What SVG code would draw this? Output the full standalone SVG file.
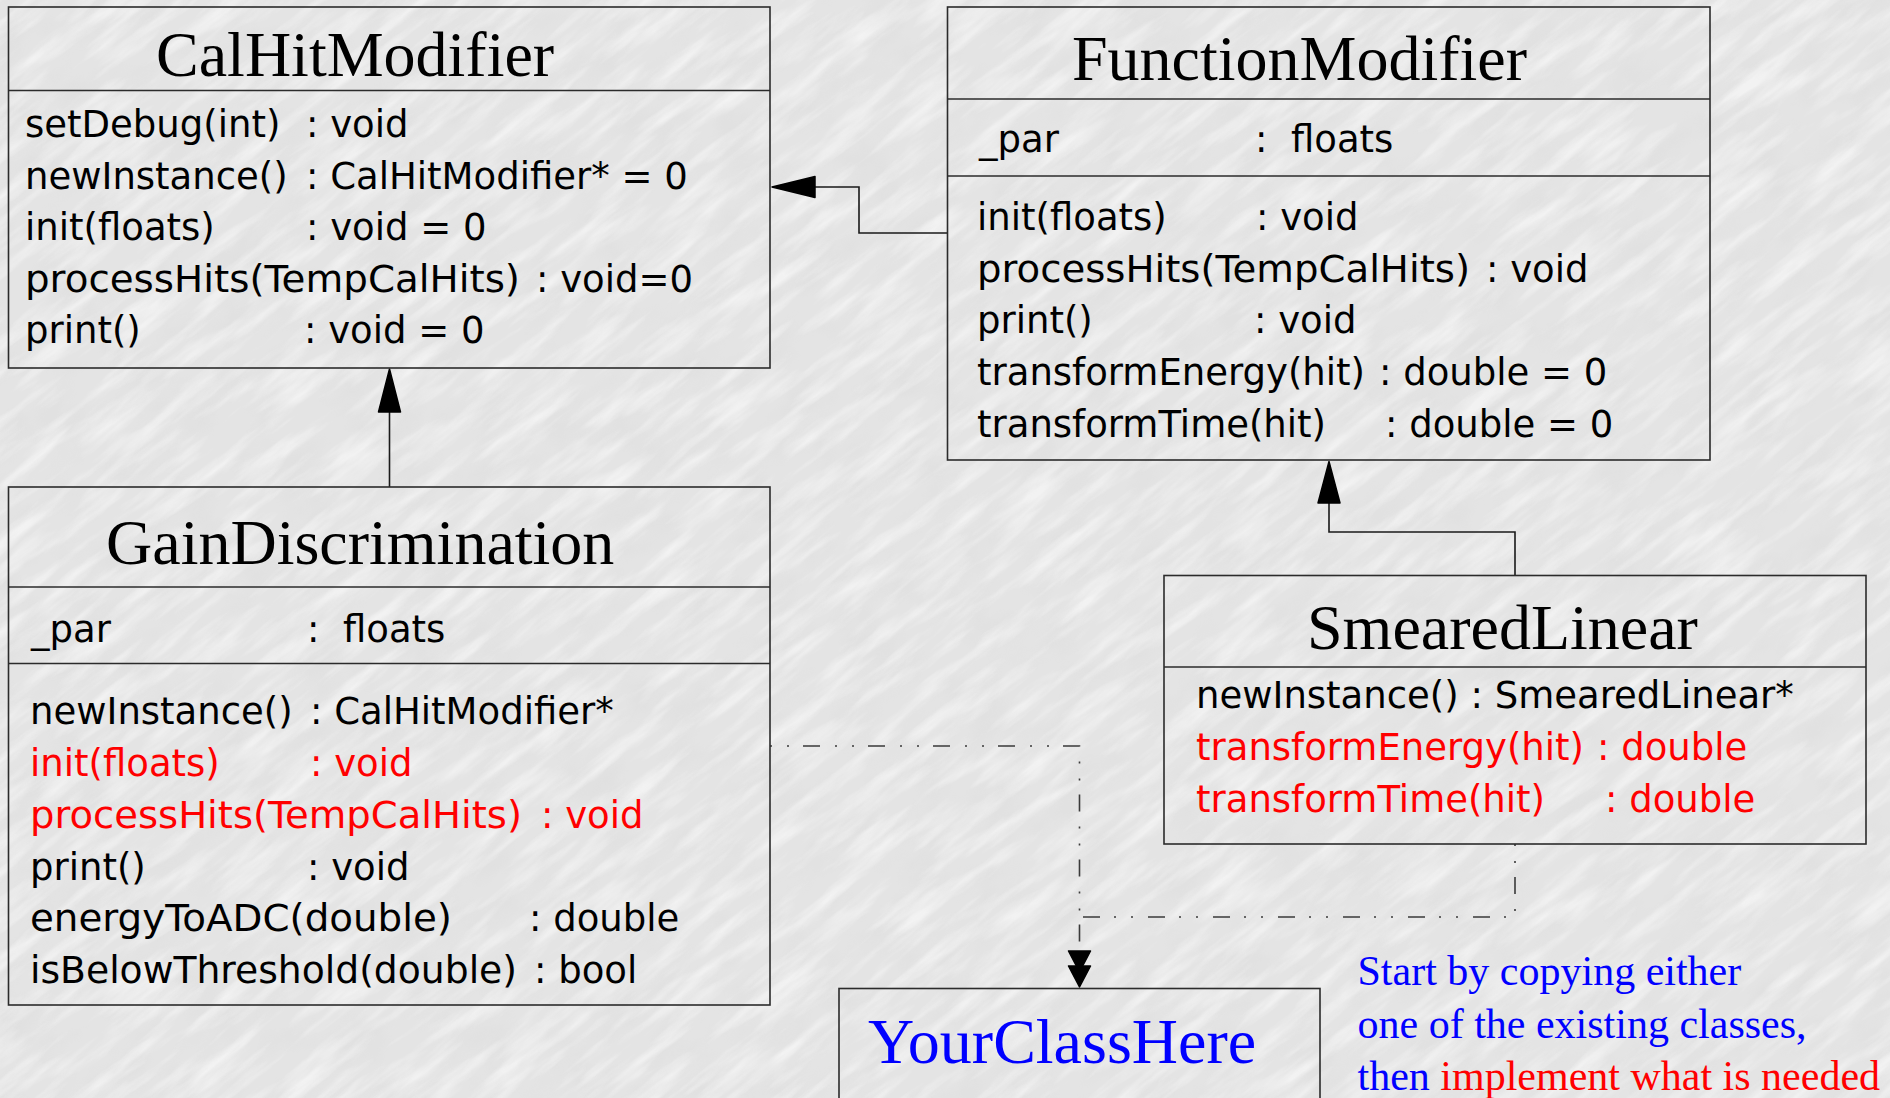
<svg xmlns="http://www.w3.org/2000/svg" width="1890" height="1098" viewBox="0 0 1890 1098">
  <defs>
    <!-- light grey crinkled-paper texture -->
    <filter id="marble" x="-1000" y="-1200" width="3900" height="3500" filterUnits="userSpaceOnUse">
      <feTurbulence type="fractalNoise" baseFrequency="0.012 0.07" numOctaves="4" seed="11" result="n"/>
      <feColorMatrix in="n" type="matrix" values="0 0 0 0 1  0 0 0 0 1  0 0 0 0 1  0 0 0 2.4 -1.05"/>
    </filter>
    <filter id="speck" x="-1000" y="-1200" width="3900" height="3500" filterUnits="userSpaceOnUse">
      <feTurbulence type="fractalNoise" baseFrequency="0.02 0.03" numOctaves="3" seed="4" result="n"/>
      <feColorMatrix in="n" type="matrix" values="0 0 0 0 0.6  0 0 0 0 0.6  0 0 0 0 0.6  0 0 0 1.4 -0.6"/>
    </filter>
    <style>
      .box { fill: none; stroke: #2b2b2b; stroke-width: 1.6; }
      .sep { stroke: #2b2b2b; stroke-width: 1.6; }
      .title { font-family: "Liberation Serif", "Times New Roman", serif; font-size: 64px; fill: #000; }
      .m { font-family: "DejaVu Sans", "Liberation Sans", sans-serif; font-size: 37px; fill: #000; }
      .red { fill: #ff0000; }
      .blue { fill: #0000ff; }
      .note { font-family: "Liberation Serif", "Times New Roman", serif; font-size: 42px; fill: #0000ff; }
      .edge { fill: none; stroke: #1a1a1a; stroke-width: 1.6; }
      .dep { fill: none; stroke: #3a3a3a; stroke-width: 1.6; stroke-dasharray: 2 15 2 14 17 15; }
      .head { fill: #000; stroke: #000; stroke-width: 1.5; stroke-linejoin: round; }
    </style>
  </defs>

  <!-- background -->
  <rect x="0" y="0" width="1890" height="1098" fill="#e4e4e4"/>
  <g transform="rotate(-38 945 549)">
    <rect x="-1000" y="-1200" width="3900" height="3500" filter="url(#speck)" opacity="0.22"/>
    <rect x="-1000" y="-1200" width="3900" height="3500" filter="url(#marble)" opacity="0.55"/>
  </g>

  <!-- connectors -->
  <g id="connectors">
    <!-- GainDiscrimination -> CalHitModifier -->
    <line class="edge" x1="389.5" y1="487" x2="389.5" y2="412"/>
    <polygon class="head" points="389.5,369 378.5,412 400.5,412"/>
    <!-- FunctionModifier -> CalHitModifier -->
    <path class="edge" d="M947.5,233 H859 V187 H815"/>
    <polygon class="head" points="772,187 815,176.5 815,197.5"/>
    <!-- SmearedLinear -> FunctionModifier -->
    <path class="edge" d="M1515,575.5 V532 H1329 V503"/>
    <polygon class="head" points="1329,461.5 1318,503 1340,503"/>
    <!-- dependencies into YourClassHere -->
    <path class="dep" d="M770,746 H1079.5 V948"/>
    <path class="dep" d="M1515,844 V917 H1079.5"/>
    <polygon class="head" points="1068.5,951 1090.5,951 1079.5,972"/>
    <polygon class="head" points="1068.5,966 1090.5,966 1079.5,987"/>
  </g>

  <!-- CalHitModifier -->
  <g id="CalHitModifier">
    <rect class="box" x="8.5" y="7" width="761.5" height="361"/>
    <line class="sep" x1="8.5" y1="90.5" x2="770" y2="90.5"/>
    <text class="title" x="156" y="76">CalHitModifier</text>
    <text class="m" x="25" y="137">setDebug(int)</text>
    <text class="m" x="306" y="137">: void</text>
    <text class="m" x="25" y="189">newInstance()</text>
    <text class="m" x="306" y="189">: CalHitModifier* = 0</text>
    <text class="m" x="25" y="240">init(floats)</text>
    <text class="m" x="306" y="240">: void = 0</text>
    <text class="m" x="25" y="292" textLength="495" lengthAdjust="spacingAndGlyphs">processHits(TempCalHits)</text>
    <text class="m" x="536" y="292">: void=0</text>
    <text class="m" x="25" y="343">print()</text>
    <text class="m" x="304" y="343">: void = 0</text>
  </g>

  <!-- FunctionModifier -->
  <g id="FunctionModifier">
    <rect class="box" x="947.5" y="7" width="762.5" height="453"/>
    <line class="sep" x1="947.5" y1="99" x2="1710" y2="99"/>
    <line class="sep" x1="947.5" y1="176" x2="1710" y2="176"/>
    <text class="title" x="1072" y="80">FunctionModifier</text>
    <text class="m" x="979" y="152">_par</text>
    <text class="m" x="1255" y="152">:</text>
    <text class="m" x="1291" y="152">floats</text>
    <text class="m" x="977" y="230">init(floats)</text>
    <text class="m" x="1256" y="230">: void</text>
    <text class="m" x="977" y="282" textLength="493" lengthAdjust="spacingAndGlyphs">processHits(TempCalHits)</text>
    <text class="m" x="1486" y="282">: void</text>
    <text class="m" x="977" y="333">print()</text>
    <text class="m" x="1254" y="333">: void</text>
    <text class="m" x="977" y="385">transformEnergy(hit)</text>
    <text class="m" x="1379" y="385">: double = 0</text>
    <text class="m" x="977" y="437">transformTime(hit)</text>
    <text class="m" x="1385" y="437">: double = 0</text>
  </g>

  <!-- GainDiscrimination -->
  <g id="GainDiscrimination">
    <rect class="box" x="8.5" y="487" width="761.5" height="518"/>
    <line class="sep" x1="8.5" y1="587" x2="770" y2="587"/>
    <line class="sep" x1="8.5" y1="663.5" x2="770" y2="663.5"/>
    <text class="title" x="106" y="564">GainDiscrimination</text>
    <text class="m" x="31" y="642">_par</text>
    <text class="m" x="307" y="642">:</text>
    <text class="m" x="343" y="642">floats</text>
    <text class="m" x="30" y="724">newInstance()</text>
    <text class="m" x="310" y="724">: CalHitModifier*</text>
    <text class="m red" x="30" y="776">init(floats)</text>
    <text class="m red" x="310" y="776">: void</text>
    <text class="m red" x="30" y="828" textLength="492" lengthAdjust="spacingAndGlyphs">processHits(TempCalHits)</text>
    <text class="m red" x="541" y="828">: void</text>
    <text class="m" x="30" y="880">print()</text>
    <text class="m" x="307" y="880">: void</text>
    <text class="m" x="30" y="931" textLength="422" lengthAdjust="spacingAndGlyphs">energyToADC(double)</text>
    <text class="m" x="529" y="931">: double</text>
    <text class="m" x="30" y="983" textLength="487" lengthAdjust="spacingAndGlyphs">isBelowThreshold(double)</text>
    <text class="m" x="534" y="983">: bool</text>
  </g>

  <!-- SmearedLinear -->
  <g id="SmearedLinear">
    <rect class="box" x="1164" y="575.5" width="702" height="268.5"/>
    <line class="sep" x1="1164" y1="667" x2="1866" y2="667"/>
    <text class="title" x="1307" y="649">SmearedLinear</text>
    <text class="m" x="1196" y="708">newInstance() : SmearedLinear*</text>
    <text class="m red" x="1196" y="760">transformEnergy(hit)</text>
    <text class="m red" x="1597" y="760">: double</text>
    <text class="m red" x="1196" y="812">transformTime(hit)</text>
    <text class="m red" x="1605" y="812">: double</text>
  </g>

  <!-- YourClassHere -->
  <g id="YourClassHere">
    <rect class="box" x="839" y="988.5" width="481" height="130"/>
    <text class="title blue" x="868" y="1063">YourClassHere</text>
  </g>

  <!-- hint text -->
  <g id="hint">
    <text class="note" x="1357.5" y="985">Start by copying either</text>
    <text class="note" x="1357.5" y="1038">one of the existing classes,</text>
    <text class="note" x="1357.5" y="1090">then <tspan class="red">implement what is needed</tspan></text>
  </g>
</svg>
